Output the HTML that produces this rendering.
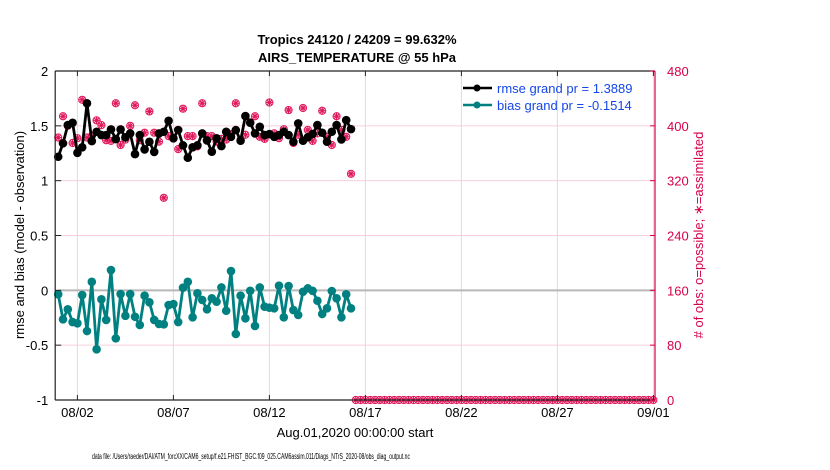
<!DOCTYPE html>
<html><head><meta charset="utf-8"><style>
body{margin:0;background:#fff;}
svg{display:block;font-family:"Liberation Sans",Arial,sans-serif;}
</style></head><body>
<svg id="chart" width="830" height="470" viewBox="0 0 830 470" xmlns="http://www.w3.org/2000/svg">
<g id="grid"></g>
<g id="series"></g>
<g id="axes"></g>
<text x="357" y="44" text-anchor="middle" font-size="13" font-weight="bold">Tropics 24120 / 24209 = 99.632%</text>
<text x="357" y="62" text-anchor="middle" font-size="13" font-weight="bold">AIRS_TEMPERATURE @ 55 hPa</text>
<text transform="translate(24,235) rotate(-90)" text-anchor="middle" font-size="13">rmse and bias (model - observation)</text>
<text transform="translate(703,235) rotate(-90)" text-anchor="middle" font-size="13" fill="#d6004b"># of obs: o=possible; ∗=assimilated</text>
<text x="355" y="437" text-anchor="middle" font-size="13">Aug.01,2020 00:00:00 start</text>
<text x="92" y="459" font-size="8" textLength="318" lengthAdjust="spacingAndGlyphs">data file: /Users/raeder/DAI/ATM_forcXX/CAM6_setup/f.e21.FHIST_BGC.f09_025.CAM6assim.011/Diags_NTrS_2020-08/obs_diag_output.nc</text>
<g>
<line x1="463" y1="88" x2="492" y2="88" stroke="#000" stroke-width="2.5"/>
<circle cx="477" cy="88" r="3.5" fill="#000"/>
<text x="497" y="93" font-size="13" fill="#1547e8">rmse grand pr = 1.3889</text>
<line x1="463" y1="105" x2="492" y2="105" stroke="#008080" stroke-width="2.5"/>
<circle cx="477" cy="105" r="3.5" fill="#008080"/>
<text x="497" y="110" font-size="13" fill="#1547e8">bias grand pr = -0.1514</text>
</g>
</svg>
<script>
const rmse=[1.218,1.34,1.507,1.528,1.254,1.304,1.705,1.361,1.446,1.416,1.416,1.467,1.379,1.467,1.395,1.431,1.242,1.416,1.285,1.354,1.262,1.431,1.446,1.546,1.386,1.462,1.322,1.209,1.304,1.322,1.431,1.367,1.264,1.386,1.315,1.446,1.4,1.461,1.364,1.589,1.528,1.431,1.491,1.416,1.425,1.4,1.416,1.446,1.416,1.355,1.522,1.364,1.395,1.425,1.507,1.437,1.355,1.446,1.507,1.376,1.552,1.47];
const bias=[-0.036,-0.264,-0.173,-0.289,-0.301,-0.043,-0.371,0.078,-0.538,-0.082,-0.27,0.185,-0.438,-0.034,-0.232,-0.034,-0.241,-0.316,-0.049,-0.109,-0.27,-0.307,-0.31,-0.134,-0.125,-0.289,0.024,0.078,-0.246,-0.027,-0.088,-0.173,-0.073,-0.104,0.027,-0.186,0.176,-0.398,-0.049,-0.255,-0.004,-0.325,0.027,-0.149,-0.158,-0.164,0.042,-0.246,0.039,-0.18,-0.225,-0.013,0.018,-0.004,-0.095,-0.216,-0.164,-0.006,-0.073,-0.246,-0.036,-0.164];
const obsCountActive=[383,414,400,375,382,438,383,385,408,401,379,378,433,372,380,400,430,379,390,421,390,377,295,385,382,366,425,385,385,370,433,385,385,377,381,380,388,433,380,387,405,414,384,381,434,389,382,395,423,375,387,426,394,378,389,422,384,372,414,394,384,330];
const xTickLabels=["08/02","08/07","08/12","08/17","08/22","08/27","09/01"];
const xTickDays=[1,6,11,16,21,26,31];
const leftTicks=[-1,-0.5,0,0.5,1,1.5,2];
const leftTickLabels=["-1","-0.5","0","0.5","1","1.5","2"];
const rightTicks=[0,80,160,240,320,400,480];
const totalSamples=125; // 6-hourly Aug 1 .. Sep 1
const NS="http://www.w3.org/2000/svg";
const X0=58.2, X1=653.4, YT=71, YB=400, AX=655;
function xDay(d){return X0+(X1-X0)*d/31;}
function xIdx(i){return xDay(i/4);}
function yL(v){return YB-(v+1)/3*(YB-YT);}
function yR(v){return YB-v/480*(YB-YT);}
function mk(tag,attrs,parent){const e=document.createElementNS(NS,tag);for(const k in attrs)e.setAttribute(k,attrs[k]);parent.appendChild(e);return e;}
const grid=document.getElementById('grid'),series=document.getElementById('series'),axes=document.getElementById('axes');
xTickDays.forEach(d=>{const l=mk('line',{x1:xDay(d),x2:xDay(d),y1:YT,y2:YB,stroke:'#dcdcdc','stroke-width':1},grid);

});
rightTicks.forEach(v=>{if(v===0||v===480)return;const l=mk('line',{x1:X0-3,x2:AX,y1:yR(v),y2:yR(v),stroke:'#f6d0dc','stroke-width':1},grid);

});
const zl=mk('line',{x1:X0,x2:AX,y1:yL(0),y2:yL(0),stroke:'#b8b8b8','stroke-width':2},grid);


function obsMarker(x,y,name){const g=mk('g',{},series);


mk('circle',{cx:x,cy:y,r:3.6,fill:'none',stroke:'#e0195a','stroke-width':1},g);
for(let a=0;a<4;a++){const t=a*Math.PI/4;mk('line',{x1:x-3.5*Math.cos(t),y1:y-3.5*Math.sin(t),x2:x+3.5*Math.cos(t),y2:y+3.5*Math.sin(t),stroke:'#e0195a','stroke-width':1.2},g);}}
for(let i=0;i<totalSamples;i++){const c=i<obsCountActive.length?obsCountActive[i]:0;obsMarker(xIdx(i),yR(c),'obs-count-marker');}
function line(data,fn,color,name,mname){const pts=data.map((v,i)=>xIdx(i).toFixed(1)+','+fn(v).toFixed(1)).join(' ');
const p=mk('polyline',{points:pts,fill:'none',stroke:color,'stroke-width':2.8,'stroke-linejoin':'round'},series);


data.forEach((v,i)=>{const c=mk('circle',{cx:xIdx(i),cy:fn(v),r:4.3,fill:color},series);

});}
line(bias,yL,'#008080','bias-line','bias-point');
line(rmse,yL,'#000','rmse-line','rmse-point');
const la=mk('line',{x1:X0-3,x2:X0-3,y1:YT,y2:YB,stroke:'#222','stroke-width':1.2},axes);


const ta=mk('line',{x1:X0-3,x2:AX,y1:YT,y2:YT,stroke:'#222','stroke-width':1.2},axes);


const ba=mk('line',{x1:X0-3,x2:AX,y1:YB,y2:YB,stroke:'#222','stroke-width':1.2},axes);


const ra=mk('line',{x1:AX,x2:AX,y1:YT,y2:YB,stroke:'#d6004b','stroke-width':1.2},axes);


leftTicks.forEach((v,i)=>{mk('line',{x1:X0-3,x2:X0+3,y1:yL(v),y2:yL(v),stroke:'#222'},axes);
const t=mk('text',{x:X0-10,y:yL(v)+5,'text-anchor':'end','font-size':13},axes);t.textContent=leftTickLabels[i];

});
rightTicks.forEach(v=>{mk('line',{x1:AX-5,x2:AX,y1:yR(v),y2:yR(v),stroke:'#d6004b'},axes);
const t=mk('text',{x:AX+12,y:yR(v)+5,'font-size':13,fill:'#d6004b'},axes);t.textContent=String(v);

});
xTickDays.forEach((d,i)=>{mk('line',{x1:xDay(d),x2:xDay(d),y1:YB-5,y2:YB,stroke:'#222'},axes);
mk('line',{x1:xDay(d),x2:xDay(d),y1:YT,y2:YT+5,stroke:'#222'},axes);
const t=mk('text',{x:xDay(d),y:YB+17,'text-anchor':'middle','font-size':13},axes);t.textContent=xTickLabels[i];

});
</script>
</body></html>
